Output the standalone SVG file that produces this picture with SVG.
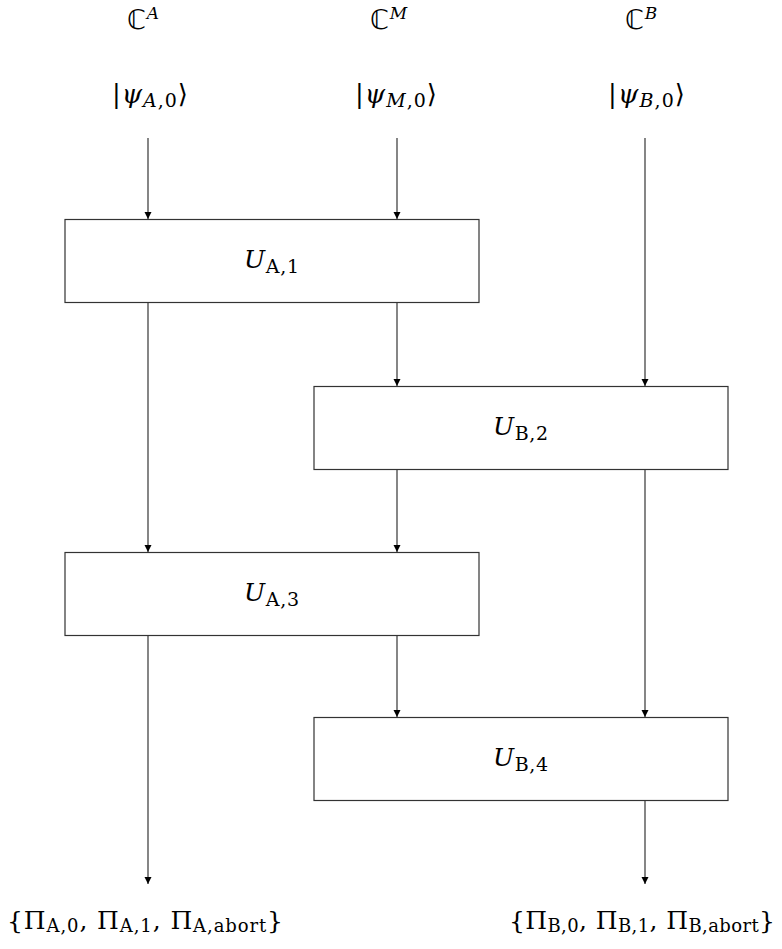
<svg xmlns="http://www.w3.org/2000/svg" width="782" height="949" viewBox="0 0 782 949">
<style>
.box{fill:#fff;stroke:#333;stroke-width:1.2}
.ln{stroke:#222;stroke-width:1.1;fill:none}
text{font-family:"DejaVu Serif","Liberation Serif",serif;fill:#000}
.top{font-size:26px}
.m{font-size:25px}
.b{font-size:25px}
.it{font-style:italic}
.s{font-size:19px}
.sp{font-size:17px}
.sb{font-size:18px}
.cc{font-family:"DejaVu Sans",sans-serif;font-size:27px}
</style>
<defs>
<marker id="ah" markerWidth="8" markerHeight="8" refX="7" refY="3.5" orient="auto" markerUnits="userSpaceOnUse">
<path d="M0,0 L7,3.5 L0,7 Z" fill="#000"/>
</marker>
</defs>
<g id="labels-top">
<text x="127" y="29" class="top"><tspan class="cc">ℂ</tspan><tspan class="it sp" dx="1" dy="-10">A</tspan></text>
<text x="370" y="29" class="top"><tspan class="cc">ℂ</tspan><tspan class="it sp" dx="1" dy="-10">M</tspan></text>
<text x="625" y="29" class="top"><tspan class="cc">ℂ</tspan><tspan class="it sp" dx="1" dy="-10">B</tspan></text>
<text x="112" y="103" class="top" textLength="76">|<tspan class="it">ψ</tspan><tspan class="s" dy="4"><tspan class="it">A</tspan>,0</tspan><tspan dy="-4">⟩</tspan></text>
<text x="355" y="103" class="top" textLength="82">|<tspan class="it">ψ</tspan><tspan class="s" dy="4"><tspan class="it">M</tspan>,0</tspan><tspan dy="-4">⟩</tspan></text>
<text x="608" y="103" class="top" textLength="77">|<tspan class="it">ψ</tspan><tspan class="s" dy="4"><tspan class="it">B</tspan>,0</tspan><tspan dy="-4">⟩</tspan></text>
</g>
<g id="connectors">
<line class="ln" x1="148" y1="138" x2="148" y2="219" marker-end="url(#ah)"/>
<line class="ln" x1="397" y1="138" x2="397" y2="219" marker-end="url(#ah)"/>
<line class="ln" x1="645" y1="138" x2="645" y2="386" marker-end="url(#ah)"/>
<line class="ln" x1="397" y1="303" x2="397" y2="386" marker-end="url(#ah)"/>
<line class="ln" x1="148" y1="303" x2="148" y2="552" marker-end="url(#ah)"/>
<line class="ln" x1="397" y1="469" x2="397" y2="552" marker-end="url(#ah)"/>
<line class="ln" x1="645" y1="469" x2="645" y2="717" marker-end="url(#ah)"/>
<line class="ln" x1="397" y1="636" x2="397" y2="717" marker-end="url(#ah)"/>
<line class="ln" x1="148" y1="636" x2="148" y2="884" marker-end="url(#ah)"/>
<line class="ln" x1="645" y1="800" x2="645" y2="884" marker-end="url(#ah)"/>
</g>
<g id="UA1"><rect class="box" x="65" y="219.5" width="414" height="83"/>
<text x="244" y="268" class="m" textLength="55"><tspan class="it">U</tspan><tspan class="s" dy="5">A,1</tspan></text></g>
<g id="UB2"><rect class="box" x="314" y="386.5" width="414" height="83"/>
<text x="493" y="435" class="m" textLength="55"><tspan class="it">U</tspan><tspan class="s" dy="5">B,2</tspan></text></g>
<g id="UA3"><rect class="box" x="65" y="552.5" width="414" height="83"/>
<text x="244" y="601" class="m" textLength="55"><tspan class="it">U</tspan><tspan class="s" dy="5">A,3</tspan></text></g>
<g id="UB4"><rect class="box" x="314" y="717.5" width="414" height="83"/>
<text x="493" y="766" class="m" textLength="55"><tspan class="it">U</tspan><tspan class="s" dy="5">B,4</tspan></text></g>
<g id="labels-bottom">
<text x="7" y="929" class="b" textLength="276">{Π<tspan class="sb" dy="3">A,0</tspan><tspan dy="-3">, Π</tspan><tspan class="sb" dy="3">A,1</tspan><tspan dy="-3">, Π</tspan><tspan class="sb" dy="3">A,abort</tspan><tspan dy="-3">}</tspan></text>
<text x="509" y="929" class="b" textLength="266">{Π<tspan class="sb" dy="3">B,0</tspan><tspan dy="-3">, Π</tspan><tspan class="sb" dy="3">B,1</tspan><tspan dy="-3">, Π</tspan><tspan class="sb" dy="3">B,abort</tspan><tspan dy="-3">}</tspan></text>
</g>
</svg>
